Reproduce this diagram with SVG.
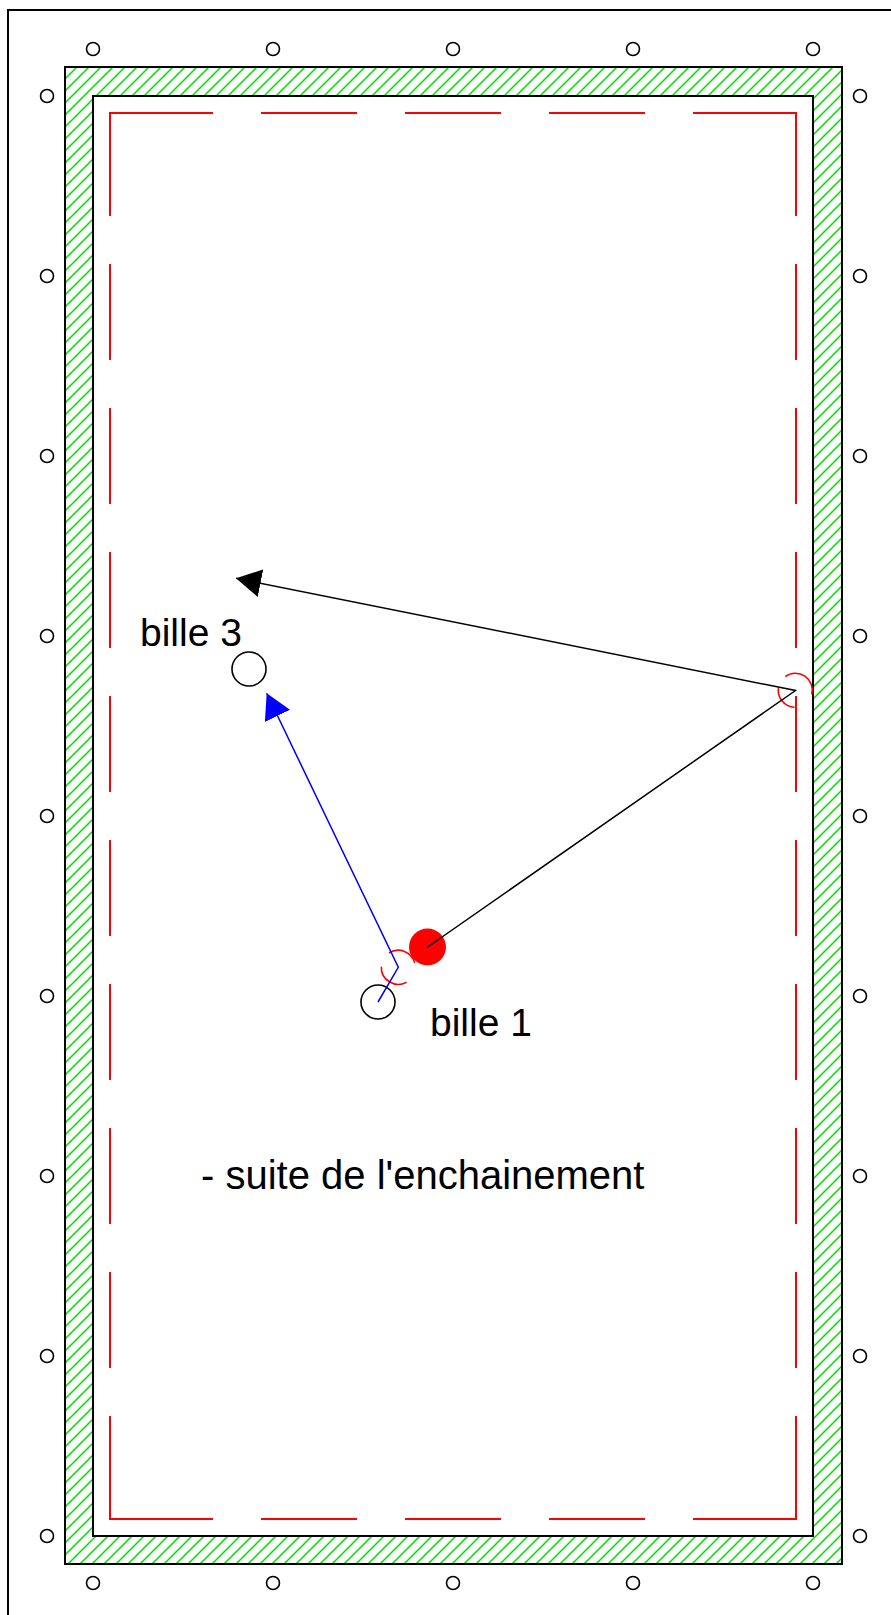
<svg xmlns="http://www.w3.org/2000/svg" width="891" height="1615" viewBox="0 0 891 1615">
<style>
.frame{fill:none;stroke:#000;stroke-width:2}
.dia{fill:#fff;stroke:#000;stroke-width:1.6}
.rail{fill:none;stroke:#f00;stroke-width:2}
.ghost{fill:none;stroke:#f00;stroke-width:1.6}
.ball{fill:#fff;stroke:#000;stroke-width:1.6}
.lbl{font-family:"Liberation Sans",Arial,sans-serif;font-size:39px;fill:#000}
</style>
<defs>
<pattern id="hatch" patternUnits="userSpaceOnUse" width="12" height="12">
<path d="M-3,3 L3,-3 M0,12 L12,0 M9,15 L15,9" stroke="#00dd00" stroke-width="1.5"/>
</pattern>
<marker id="arrK" viewBox="0 0 25 28" refX="25" refY="14" markerWidth="25" markerHeight="28" markerUnits="userSpaceOnUse" orient="auto">
<path d="M0,0 L25,14 L0,28 z" fill="#000"/>
</marker>
<marker id="arrB" viewBox="0 0 25 28" refX="25" refY="14" markerWidth="25" markerHeight="28" markerUnits="userSpaceOnUse" orient="auto">
<path d="M0,0 L25,14 L0,28 z" fill="#00f"/>
</marker>
</defs>
<rect width="891" height="1615" fill="#fff"/>
<g id="table">
<rect class="frame" x="8" y="10" width="900" height="1620"/>
<path d="M65,67 H842 V1564 H65 Z M93,96 V1536 H813 V96 Z" fill="url(#hatch)" fill-rule="evenodd" stroke="#000" stroke-width="2"/>
<rect x="93" y="96" width="720" height="1440" fill="#fff" stroke="#000" stroke-width="2"/>
</g>
<g id="rails">
<path class="rail" d="M110,216 V113 H213 M261,113 H357 M405,113 H501 M549,113 H645 M693,113 H796 V216 M110,1416 V1519 H213 M261,1519 H357 M405,1519 H501 M549,1519 H645 M693,1519 H796 V1416 M110,264 V360 M110,408 V504 M110,552 V648 M110,696 V792 M110,840 V936 M110,984 V1080 M110,1128 V1224 M110,1272 V1368 M796,264 V360 M796,408 V504 M796,552 V648 M796,696 V792 M796,840 V936 M796,984 V1080 M796,1128 V1224 M796,1272 V1368"/>
</g>
<g id="diamonds">
<circle class="dia" cx="93" cy="49" r="6.5"/><circle class="dia" cx="273" cy="49" r="6.5"/><circle class="dia" cx="453" cy="49" r="6.5"/><circle class="dia" cx="633" cy="49" r="6.5"/><circle class="dia" cx="813" cy="49" r="6.5"/>
<circle class="dia" cx="93" cy="1583" r="6.5"/><circle class="dia" cx="273" cy="1583" r="6.5"/><circle class="dia" cx="453" cy="1583" r="6.5"/><circle class="dia" cx="633" cy="1583" r="6.5"/><circle class="dia" cx="813" cy="1583" r="6.5"/>
<circle class="dia" cx="47" cy="96" r="6.5"/><circle class="dia" cx="47" cy="276" r="6.5"/><circle class="dia" cx="47" cy="456" r="6.5"/><circle class="dia" cx="47" cy="636" r="6.5"/><circle class="dia" cx="47" cy="816" r="6.5"/><circle class="dia" cx="47" cy="996" r="6.5"/><circle class="dia" cx="47" cy="1176" r="6.5"/><circle class="dia" cx="47" cy="1356" r="6.5"/><circle class="dia" cx="47" cy="1536" r="6.5"/>
<circle class="dia" cx="860" cy="96" r="6.5"/><circle class="dia" cx="860" cy="276" r="6.5"/><circle class="dia" cx="860" cy="456" r="6.5"/><circle class="dia" cx="860" cy="636" r="6.5"/><circle class="dia" cx="860" cy="816" r="6.5"/><circle class="dia" cx="860" cy="996" r="6.5"/><circle class="dia" cx="860" cy="1176" r="6.5"/><circle class="dia" cx="860" cy="1356" r="6.5"/><circle class="dia" cx="860" cy="1536" r="6.5"/>
</g>
<g id="bille3"><circle class="ball" cx="249" cy="669" r="17"/></g>
<g id="bille1"><circle class="ball" cx="378" cy="1002" r="17"/></g>
<g id="bille2"><circle cx="427.5" cy="947" r="18.5" fill="#f00"/></g>
<g id="ghost1"><path class="ghost" d="M389,953 A17,17 0 0 1 414.7,962.9 M406.5,982.2 A17,17 0 0 1 381.3,966.7"/></g>
<g id="ghost2"><path class="ghost" d="M785.3,676.5 A17,17 0 0 1 811.8,694.5 M794.5,707.3 A17,17 0 0 1 778.4,688.2"/></g>
<g id="connectors">
<polyline points="427,947.5 795.5,690.5 236,578.3" fill="none" stroke="#000" stroke-width="1.5" marker-end="url(#arrK)"/>
<polyline points="378,1002 398.3,967.3 266.7,693.3" fill="none" stroke="#00f" stroke-width="1.5" marker-end="url(#arrB)"/>
</g>
<g id="labels">
<text class="lbl" x="140" y="646">bille 3</text>
<text class="lbl" x="430" y="1036">bille 1</text>
<text class="lbl" x="201" y="1189" style="font-size:40px">- suite de l'enchainement</text>
</g>
</svg>
